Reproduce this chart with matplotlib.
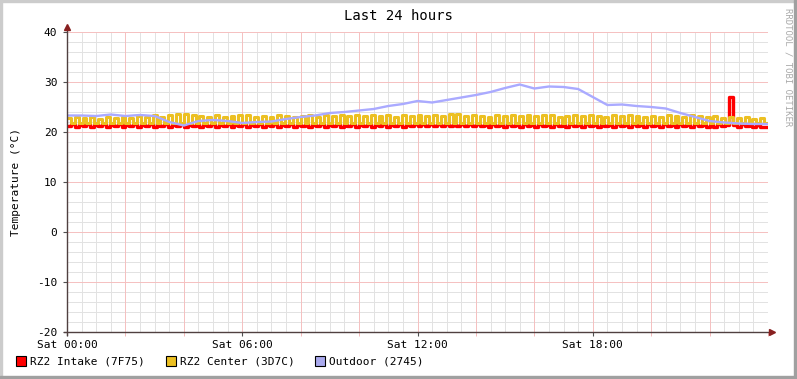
import numpy as np
import matplotlib
matplotlib.use("Agg")
import matplotlib.pyplot as plt
from matplotlib.patches import Rectangle

plt.rcParams["font.family"] = ["DejaVu Sans Mono"]

# samples every 8 minutes over 24 h (180 values)
step_min = 8

intake = [
    21.2, 21.6, 21.1, 21.5, 21.2, 21.6, 21.1, 21.5, 21.2, 21.6, 21.1, 21.5, 21.2, 21.6, 21.1,
    21.5, 21.2, 21.6, 21.1, 21.5, 21.2, 21.6, 21.1, 21.5, 21.2, 21.6, 21.1, 21.5, 21.2, 21.6,
    21.1, 21.5, 21.2, 21.6, 21.1, 21.5, 21.2, 21.6, 21.1, 21.5, 21.2, 21.6, 21.1, 21.5, 21.2,
    21.6, 21.1, 21.5, 21.2, 21.6, 21.1, 21.5, 21.2, 21.6, 21.1, 21.5, 21.2, 21.6, 21.1, 21.5,
    21.2, 21.6, 21.1, 21.5, 21.2, 21.6, 21.1, 21.5, 21.2, 21.6, 21.1, 21.5, 21.2, 21.6, 21.1,
    21.5, 21.2, 21.6, 21.1, 21.5, 21.2, 21.6, 21.1, 21.5, 21.2, 21.6, 21.1, 21.5, 21.2, 21.6,
    21.2, 21.6, 21.3, 21.7, 21.2, 21.6, 21.3, 21.7, 21.2, 21.6, 21.3, 21.7, 21.2, 21.6, 21.2,
    21.6, 21.2, 21.5, 21.1, 21.6, 21.2, 21.5, 21.1, 21.6, 21.2, 21.5, 21.1, 21.6, 21.2, 21.5,
    21.1, 21.6, 21.2, 21.5, 21.1, 21.6, 21.2, 21.5, 21.1, 21.6, 21.2, 21.5, 21.1, 21.6, 21.2,
    21.5, 21.1, 21.6, 21.2, 21.5, 21.1, 21.6, 21.2, 21.5, 21.1, 21.6, 21.2, 21.5, 21.1, 21.6,
    21.2, 21.5, 21.1, 21.6, 21.2, 21.5, 21.1, 21.6, 21.2, 21.5, 21.1, 21.6, 21.2, 21.5, 21.1,
    21.5, 21.1, 21.6, 21.2, 21.5, 27.0, 21.5, 21.1, 21.6, 21.2, 21.5, 21.1, 21.4, 21.1, 21.0,
]

center = [
    22.9, 21.9, 23.0, 21.8, 22.8, 21.9, 23.1, 21.8, 22.7, 21.9, 23.0, 21.8, 22.9, 21.9, 23.1,
    21.8, 22.9, 21.9, 23.2, 21.8, 23.0, 21.9, 23.4, 21.8, 23.1, 21.9, 23.5, 21.8, 23.6, 21.9,
    23.7, 21.8, 23.4, 21.9, 23.2, 21.8, 23.0, 21.9, 23.4, 21.8, 23.1, 21.9, 23.3, 21.8, 23.5,
    21.9, 23.4, 21.8, 23.0, 21.9, 23.3, 21.8, 23.1, 21.9, 23.4, 21.8, 23.2, 21.9, 23.0, 21.8,
    23.3, 21.9, 23.5, 21.8, 23.1, 21.9, 23.4, 21.8, 23.2, 21.9, 23.5, 21.8, 23.3, 21.9, 23.4,
    21.8, 23.2, 21.9, 23.5, 21.8, 23.3, 21.9, 23.4, 21.8, 23.1, 21.9, 23.5, 21.8, 23.3, 21.9,
    23.4, 21.8, 23.2, 21.9, 23.5, 21.8, 23.3, 21.9, 23.6, 21.8, 23.7, 21.9, 23.2, 21.8, 23.4,
    21.9, 23.3, 21.8, 23.1, 21.9, 23.4, 21.8, 23.2, 21.9, 23.5, 21.8, 23.3, 21.9, 23.4, 21.8,
    23.2, 21.9, 23.5, 21.8, 23.4, 21.9, 23.1, 21.8, 23.3, 21.9, 23.5, 21.8, 23.2, 21.9, 23.4,
    21.8, 23.3, 21.9, 23.1, 21.8, 23.5, 21.9, 23.2, 21.8, 23.4, 21.9, 23.3, 21.8, 23.1, 21.9,
    23.3, 21.8, 23.0, 21.9, 23.4, 21.8, 23.2, 21.9, 23.1, 21.8, 23.5, 21.9, 23.2, 21.8, 23.0,
    21.9, 23.2, 21.8, 22.9, 21.9, 23.0, 21.8, 22.8, 21.9, 23.1, 21.8, 22.7, 21.9, 22.9, 21.8,
]

# outdoor, every 30 minutes, 0h .. 24h
outdoor = [
    23.3, 23.3, 23.2, 23.5, 23.2, 23.4, 23.2, 22.0, 21.3, 22.2,
    22.4, 22.2, 21.8, 22.0, 22.1, 22.6, 23.0, 23.3, 23.8, 24.0,
    24.3, 24.6, 25.2, 25.6, 26.2, 25.9, 26.4, 26.9, 27.4, 28.0,
    28.8, 29.5, 28.7, 29.1, 29.0, 28.6, 27.0, 25.4, 25.5, 25.2,
    25.0, 24.7, 23.8, 23.0, 22.2, 21.9, 21.7, 21.6, 21.6,
]

labels = ["RZ2 Intake (7F75)", "RZ2 Center (3D7C)", "Outdoor (2745)"]
colors = ["#ff0000", "#ecc022", "#aaaaff"]
swatch = ["#ff0000", "#ecc022", "#aaaaee"]
xtick_labels = ["Sat 00:00", "Sat 06:00", "Sat 12:00", "Sat 18:00"]

W, H = 797, 379
fig = plt.figure(figsize=(W / 100, H / 100), dpi=100)
fig.patch.set_facecolor("white")
ax = fig.add_axes([67 / W, (H - 332) / H, 701 / W, 300 / H])
ax.set_xlim(0, 24)
ax.set_ylim(-20, 40)
for s in ax.spines.values():
    s.set_visible(False)

# grid
for x in np.arange(0.5, 24.01, 0.5):
    if x % 2 != 0:
        ax.axvline(x, color="#e2e2e2", lw=0.7, zorder=0)
for y in np.arange(-18, 40, 2):
    if y % 10 != 0:
        ax.axhline(y, color="#e2e2e2", lw=0.7, zorder=0)
for x in np.arange(2, 24.01, 2):
    ax.axvline(x, color="#f5c0c0", lw=0.7, zorder=1)
for y in np.arange(-10, 40.1, 10):
    ax.axhline(y, color="#f5c0c0", lw=0.7, zorder=1)

# ticks
ax.set_xticks([0, 6, 12, 18])
ax.set_xticklabels(xtick_labels, fontsize=8)
ax.set_xticks(np.arange(2, 24.1, 2), minor=True)
ax.tick_params(axis="x", which="major", length=3, color="#505050", pad=3)
ax.tick_params(axis="x", which="minor", length=3, color="#f2b0b0")
ax.set_yticks(np.arange(-20, 40.1, 10))
ax.set_yticklabels([str(v) for v in range(-20, 41, 10)], fontsize=8)
ax.tick_params(axis="y", which="major", length=3, color="#505050", pad=4)

# axes with arrows
ax.plot([0, 0], [-20.6, 40.9], color="#504040", lw=1, clip_on=False, zorder=6)
ax.plot([-0.1, 24.05], [-20, -20], color="#504040", lw=1, clip_on=False, zorder=6)
ax.plot([0], [41.0], marker="^", color="#882020", ms=4, clip_on=False, zorder=7)
ax.plot([24.12], [-20], marker=">", color="#882020", ms=4, clip_on=False, zorder=7)

# series
t = np.arange(len(center) + 1) * step_min / 60
ax.plot(t, intake + [intake[-1]], drawstyle="steps-post", color=colors[0], lw=2.4, zorder=3)
ax.plot(t, center + [center[-1]], drawstyle="steps-post", color=colors[1], lw=2.2, zorder=4)
t2 = np.arange(len(outdoor)) * 0.5
ax.plot(t2, outdoor, color=colors[2], lw=1.7, zorder=5)

# texts
fig.text(0.5, 1 - 16 / H, "Last 24 hours", ha="center", va="center", fontsize=10)
fig.text(16 / W, 1 - 182 / H, "Temperature (°C)", rotation=90, ha="center", va="center", fontsize=8)
fig.text(788 / W, 1 - 8 / H, "RRDTOOL / TOBI OETIKER", rotation=270, ha="center", va="top",
         fontsize=6.5, color="#aaaaaa")

# legend
lx = [16, 166, 315]
for i in range(3):
    fig.add_artist(Rectangle((lx[i] / W, 1 - 366 / H), 10 / W, 10 / H, facecolor=swatch[i],
                             edgecolor="black", lw=0.8, transform=fig.transFigure))
    fig.text((lx[i] + 14) / W, 1 - 361 / H, labels[i], ha="left", va="center", fontsize=8)

# frame
fig.add_artist(Rectangle((0, 1 - 2 / H), 1, 2 / H, color="#cccccc", transform=fig.transFigure))
fig.add_artist(Rectangle((0, 0), 2 / W, 1, color="#cccccc", transform=fig.transFigure))
fig.add_artist(Rectangle((1 - 3 / W, 0), 3 / W, 1, color="#a0a0a0", transform=fig.transFigure))
fig.add_artist(Rectangle((0, 0), 1, 3 / H, color="#a0a0a0", transform=fig.transFigure))

fig.savefig("out.png", dpi=100)
